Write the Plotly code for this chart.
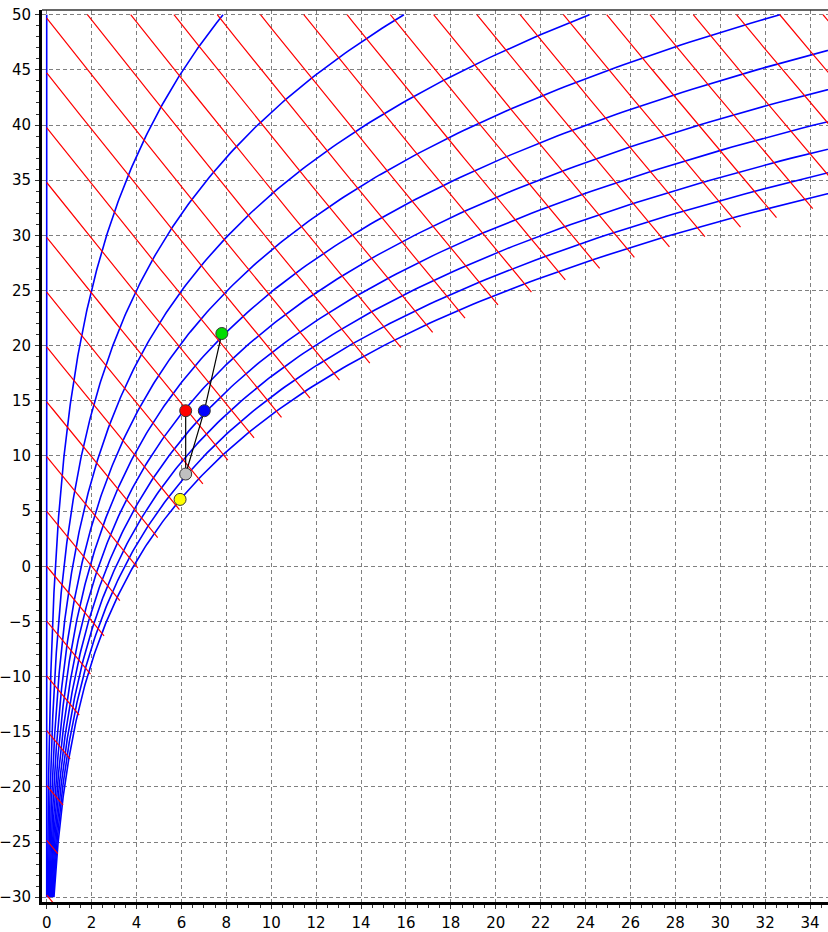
import numpy as np
import plotly.graph_objects as go

# ---------------- data ----------------
# relative-humidity curves drawn (percent)
rh_levels = [0, 10, 20, 30, 40, 50, 60, 70, 80, 90, 100]
# enthalpy lines drawn (kJ/kg dry air)
enthalpy_levels = list(range(-30, 145, 5))
# dry-bulb temperature grid of the chart (deg C)
temps = np.arange(-30.0, 50.01, 0.25)
# air pressure used by the chart (kPa)
pressure_kpa = 99.0

# process states (humidity ratio g/kg, temperature deg C)
state_names = ["Outdoor", "Room", "Mixed", "Coil", "Supply"]
state_x = [7.80, 6.19, 7.02, 6.19, 5.94]
state_t = [21.1, 14.1, 14.1, 8.36, 6.06]
state_colors = ["#00dd00", "#ff0000", "#0000ff", "#c0c0c0", "#ffff00"]
# process paths as lists of state indices
paths = [[1, 3], [0, 2, 3]]

x_ticks = list(range(0, 35, 2))
y_ticks = list(range(-30, 51, 5))


# ---------------- psychrometrics ----------------
def p_sat(t):
    return 0.6112 * np.exp(17.62 * t / (243.12 + t))


def x_of(t, phi):
    pv = phi * p_sat(t)
    return 622.0 * pv / (pressure_kpa - pv)


def enthalpy(t, x):
    return 1.006 * t + x / 1000.0 * (2501.0 + 1.86 * t)


def x_on_isenthalp(h, t):
    return 1000.0 * (h - 1.006 * t) / (2501.0 + 1.86 * t)


def t_end_of(h, phi_end=1.06):
    lo, hi = -45.0, 70.0
    for _ in range(80):
        mid = 0.5 * (lo + hi)
        if enthalpy(mid, x_of(mid, phi_end)) > h:
            hi = mid
        else:
            lo = mid
    return 0.5 * (lo + hi)


fig = go.Figure()

# blue relative humidity curves
for rh in rh_levels:
    fig.add_trace(go.Scatter(
        x=x_of(temps, rh / 100.0), y=temps, mode="lines",
        line=dict(color="#0000ff", width=1.6), hoverinfo="skip",
        name=f"{rh}%"))

# red enthalpy lines
for h in enthalpy_levels:
    t_top = min(h / 1.006, 50.0)
    t_bot = t_end_of(h)
    if t_bot >= t_top:
        continue
    tt = np.linspace(t_bot, t_top, 40)
    fig.add_trace(go.Scatter(
        x=x_on_isenthalp(h, tt), y=tt, mode="lines",
        line=dict(color="#ff0000", width=1.2), hoverinfo="skip",
        name=f"h={h}"))

# process lines
for p in paths:
    fig.add_trace(go.Scatter(
        x=[state_x[i] for i in p], y=[state_t[i] for i in p], mode="lines",
        line=dict(color="#000000", width=1.2), hoverinfo="skip"))

# state points
fig.add_trace(go.Scatter(
    x=state_x, y=state_t, mode="markers", text=state_names,
    marker=dict(size=12, color=state_colors,
                line=dict(color="#333333", width=1))))

axis_common = dict(
    showgrid=True, gridcolor="#808080", gridwidth=1, griddash="4px,3px",
    zeroline=False, showline=True, linecolor="#000000", linewidth=3,
    ticks="outside", ticklen=4, tickcolor="#333333", tickwidth=1,
    tickfont=dict(family="DejaVu Sans", size=15, color="#000000"),
    automargin=False, ticklabeloverflow="allow",
)

fig.update_xaxes(range=[-0.21, 34.80], tickvals=x_ticks,
                 ticklabelstandoff=1,
                 minor=dict(dtick=0.5, tick0=0, ticks="outside", ticklen=3,
                            tickcolor="#333333", showgrid=False),
                 **axis_common)
fig.update_yaxes(range=[-30.44, 50.43], tickvals=y_ticks,
                 ticklabelstandoff=1,
                 minor=dict(dtick=1, tick0=0, ticks="outside", ticklen=3,
                            tickcolor="#333333", showgrid=False),
                 **axis_common)

fig.add_shape(type="line", xref="paper", yref="paper", x0=0, x1=1, y0=1, y1=1,
              line=dict(color="#333333", width=1.5))

fig.update_layout(
    width=828, height=932,
    margin=dict(l=42, r=0, t=10, b=30, autoexpand=False),
    plot_bgcolor="#ffffff", paper_bgcolor="#ffffff",
    showlegend=False,
)

fig.write_html("out.html",
               config={"displayModeBar": False},
               post_script="document.body.style.margin='0';"
                           "document.body.style.overflow='hidden';")
